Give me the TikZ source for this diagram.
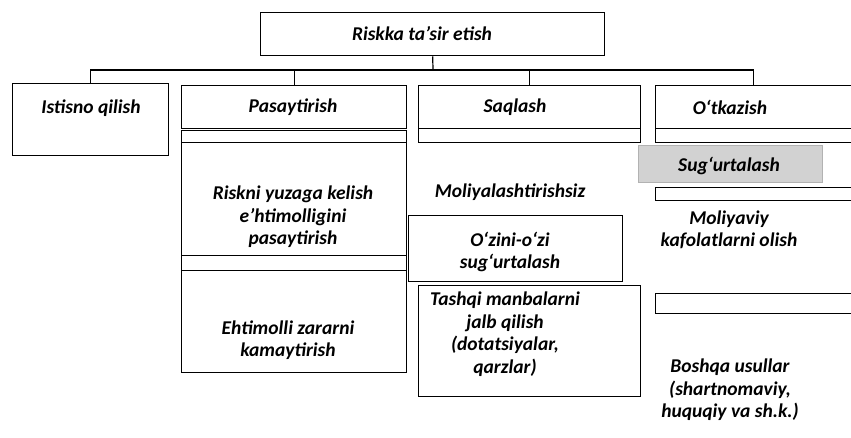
\documentclass[tikz,border=0pt]{standalone}
\usepackage{fontspec}
\setmainfont{Carlito}
\begin{document}
\begin{tikzpicture}[x=1pt,y=-1pt,
  box/.style={draw, line width=1.4pt, inner sep=0pt, anchor=north west},
  strip/.style={draw, line width=1.2pt, inner sep=0pt, anchor=north west},
  lbl/.style={font=\bfseries\itshape\fontsize{19.5}{22.5}\selectfont, align=center, inner sep=0pt},
  conn/.style={line width=1.2pt}]
\useasboundingbox (0,0) rectangle (851,437);
% top
\node[box, minimum width=344pt, minimum height=43pt] (top) at (260,12) {};
\node[lbl] (toplbl) at (422,34) {Riskka ta’sir etish};
% Istisno
\node[box, minimum width=156pt, minimum height=72pt] (ist) at (12,83) {};
\node[lbl] (istlbl) at (91,108) {Istisno qilish};
% Pasaytirish column
\node[box, minimum width=225pt, minimum height=43pt] (pas) at (181,85) {};
\node[lbl] (paslbl) at (293,107) {Pasaytirish};
\node[strip, minimum width=225pt, minimum height=12pt] (pass1) at (181,130) {};
\node[box, line width=0.8pt, minimum width=225pt, minimum height=113pt] (pasA) at (181,142) {};
\node[lbl] (pasAlbl) at (293,217) {Riskni yuzaga kelish\\e’htimolligini\\pasaytirish};
\node[strip, minimum width=225pt, minimum height=15pt] (pass2) at (181,255) {};
\node[box, line width=0.8pt, minimum width=225pt, minimum height=102pt] (pasB) at (181,270) {};
\node[lbl] (pasBlbl) at (288,340) {Ehtimolli zararni\\kamaytirish};
% Saqlash column
\node[box, minimum width=222pt, minimum height=43pt] (saq) at (418,85) {};
\node[lbl] (saqlbl) at (515,107) {Saqlash};
\node[strip, minimum width=222pt, minimum height=14pt] (saqs1) at (418,128) {};
\node[lbl] (saqAlbl) at (510,192) {Moliyalashtirishsiz};
\node[box, minimum width=214pt, minimum height=66pt] (saqB) at (408,215) {};
\node[lbl] (saqBlbl) at (510,252) {O‘zini-o‘zi\\sug‘urtalash};
\node[box, line width=0.8pt, minimum width=222pt, minimum height=111pt] (saqC) at (418,285) {};
\node[lbl] (saqClbl) at (505,334) {Tashqi manbalarni\\jalb qilish\\(dotatsiyalar,\\qarzlar)};
% O'tkazish column
\node[box, minimum width=196pt, minimum height=43pt] (otk) at (655,85) {};
\node[lbl] (otklbl) at (730,107) {O‘tkazish};
\node[strip, minimum width=196pt, minimum height=14pt] (otks1) at (655,128) {};
\node[box, draw=gray!60, fill=gray!35, line width=0.6pt, minimum width=184pt, minimum height=37pt] (sug) at (638,145) {};
\node[lbl] (suglbl) at (729,166) {Sug‘urtalash};
\node[strip, minimum width=196pt, minimum height=13pt] (otks2) at (655,187) {};
\node[lbl] (molbl) at (729,230) {Moliyaviy\\kafolatlarni olish};
\node[strip, minimum width=196pt, minimum height=20pt] (otks3) at (655,293) {};
\node[lbl] (boshlbl) at (730,390) {Boshqa usullar\\(shartnomaviy,\\huquqiy va sh.k.)};
% connectors
\coordinate (bus) at (433,70);
\draw[conn] (top.south) -- (bus);
\draw[conn] (ist.north) |- (bus) -| (otk.north);
\draw[conn] (pas.north) -- (pas.north |- bus);
\draw[conn] (saq.north) -- (saq.north |- bus);
\end{tikzpicture}
\end{document}
